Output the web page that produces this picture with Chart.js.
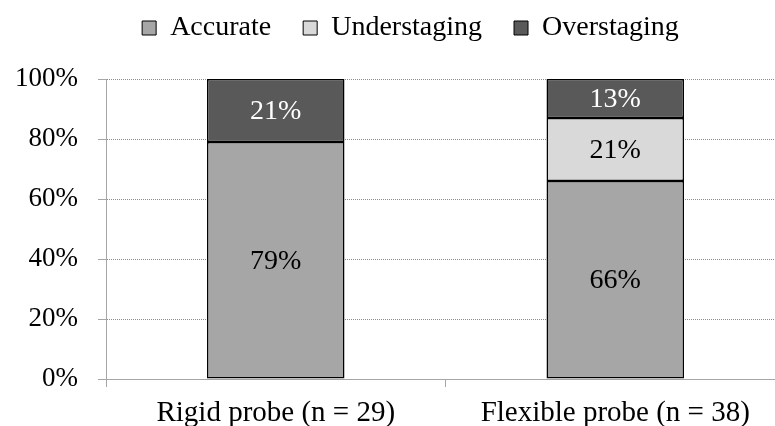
<!DOCTYPE html>
<html>
<head>
<meta charset="utf-8">
<script src="https://cdn.jsdelivr.net/npm/chart.js@4.4.1/dist/chart.umd.min.js"></script>
<style>
  html, body { margin: 0; padding: 0; background: #fff; overflow: hidden; width: 775px; height: 426px; }
  #wrap { width: 800px; height: 426px; }
</style>
</head>
<body>
<div id="wrap"><canvas id="c" width="800" height="426"></canvas></div>
<script>
const categories = ['Rigid probe (n = 29)', 'Flexible probe (n = 38)'];
const accurate = [79, 66];
const understaging = [0, 21];
const overstaging = [21, 13];
const yTicks = [0, 20, 40, 60, 80, 100];

const FONT = "'Liberation Serif', 'Times New Roman', serif";
const LEGEND_BLOCK = 97;   // legend band height above the plot
const LEGEND_SHIFT = 18;   // nudge the legend row to the right

// Writes each segment's percentage in the middle of its bar piece
const segmentLabels = {
  id: 'segmentLabels',
  afterDatasetsDraw(chart) {
    const ctx = chart.ctx;
    ctx.save();
    ctx.font = '28px ' + FONT;
    ctx.textAlign = 'center';
    ctx.textBaseline = 'middle';
    chart.data.datasets.forEach((ds, i) => {
      const meta = chart.getDatasetMeta(i);
      meta.data.forEach((bar, j) => {
        const v = ds.data[j];
        if (!v) return;
        ctx.fillStyle = ds.labelColor;
        ctx.fillText(v + '%', bar.x, (bar.y + bar.base) / 2 + 1);
      });
    });
    ctx.restore();
  }
};

// Gives the legend a fixed band height and offsets its row horizontally
const legendBand = {
  id: 'legendBand',
  beforeLayout(chart) {
    const lg = chart.legend;
    if (lg && !lg._bandWrapped) {
      const fit = lg.fit;
      lg.fit = function () {
        fit.call(this);
        this.height = LEGEND_BLOCK;
      };
      lg._bandWrapped = true;
    }
  },
  afterLayout(chart) {
    const lg = chart.legend;
    if (lg) {
      lg.left += LEGEND_SHIFT;
      lg.right += LEGEND_SHIFT;
    }
  }
};

new Chart(document.getElementById('c'), {
  type: 'bar',
  data: {
    labels: categories,
    datasets: [
      { label: 'Accurate', data: accurate, backgroundColor: '#A6A6A6', labelColor: '#000' },
      { label: 'Understaging', data: understaging, backgroundColor: '#D9D9D9', labelColor: '#000' },
      { label: 'Overstaging', data: overstaging, backgroundColor: '#595959', labelColor: '#fff' }
    ].map(d => Object.assign(d, {
      borderColor: '#000',
      borderWidth: 1.5,
      borderSkipped: false,
      barPercentage: 0.81,
      categoryPercentage: 0.5
    }))
  },
  options: {
    responsive: false,
    animation: false,
    devicePixelRatio: 1,
    layout: { padding: { top: -18, right: 15, bottom: 0, left: 0 } },
    plugins: {
      tooltip: { enabled: false },
      legend: {
        position: 'top',
        labels: {
          font: { family: FONT, size: 28 },
          color: '#000',
          boxWidth: 14,
          boxHeight: 14,
          padding: 32,
          generateLabels(chart) {
            return chart.data.datasets.map((ds, i) => ({
              text: ds.label,
              fillStyle: ds.backgroundColor,
              strokeStyle: '#000',
              lineWidth: 1,
              datasetIndex: i
            }));
          }
        }
      }
    },
    scales: {
      x: {
        stacked: true,
        offset: true,
        grid: {
          offset: true,
          drawOnChartArea: false,
          drawTicks: true,
          tickLength: 8,
          color: '#A6A6A6'
        },
        border: { color: '#A6A6A6', width: 1 },
        ticks: { font: { family: FONT, size: 29 }, color: '#000', padding: 9 },
        afterFit(s) { s.height = 47; }
      },
      y: {
        stacked: true,
        min: 0,
        max: 100,
        afterBuildTicks(s) { s.ticks = yTicks.map(v => ({ value: v })); },
        grid: {
          color: '#8C8C8C',
          tickBorderDash: [],
          tickColor: '#A6A6A6',
          tickLength: 8
        },
        border: { color: '#A6A6A6', width: 1, dash: [1, 1] },
        ticks: {
          font: { family: FONT, size: 27 },
          color: '#000',
          padding: 20,
          callback: v => v + '%'
        },
        afterFit(s) { s.width = 106; }
      }
    }
  },
  plugins: [segmentLabels, legendBand]
});
</script>
</body>
</html>
